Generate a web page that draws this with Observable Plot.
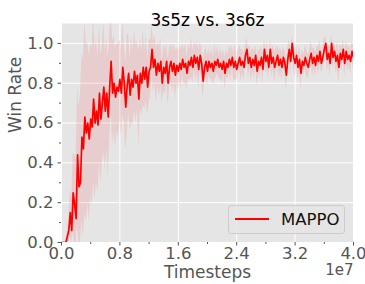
<!DOCTYPE html>
<html><head><meta charset="utf-8">
<script src="https://cdn.jsdelivr.net/npm/d3@7"></script>
<script src="https://cdn.jsdelivr.net/npm/@observablehq/plot@0.6"></script>
<style>
body{margin:0;background:#fff;}
#wrap{position:relative;width:365px;height:284px;font-family:"DejaVu Sans",sans-serif;}
#legend{position:absolute;left:228px;top:205px;width:115px;height:27px;background:rgba(229,229,229,0.8);border:1px solid #cccccc;border-radius:3px;box-sizing:content-box;}
#legend .swatch{position:absolute;left:6px;top:12px;width:34px;height:2px;background:red;}
#legend .lab{position:absolute;left:52px;top:3px;font-size:16.5px;line-height:21px;color:#111;}
</style></head><body><div id="wrap"></div>
<script>
const title = "3s5z vs. 3s6z";
const seriesName = "MAPPO";
const xLabel = "Timesteps";
const yLabel = "Win Rate";
const offsetLabel = "1e7";
const stepSize = 200000; // evaluation interval in timesteps
const winRateMean = [
0,0,0,0,0.03,0.06,0.15,0.06,0.25,0.19,
0.12,0.44,0.28,0.3,0.53,0.47,0.63,0.55,0.6,0.52,
0.62,0.58,0.72,0.6,0.66,0.59,0.75,0.62,0.7,0.78,
0.66,0.75,0.63,0.78,0.91,0.75,0.8,0.73,0.78,0.76,
0.82,0.75,0.88,0.8,0.68,0.79,0.85,0.74,0.82,0.78,
0.86,0.8,0.84,0.72,0.85,0.8,0.88,0.82,0.88,0.78,
0.86,0.88,0.97,0.88,0.92,0.84,0.9,0.86,0.91,0.8,
0.88,0.85,0.91,0.8,0.88,0.91,0.86,0.9,0.84,0.89,
0.86,0.9,0.87,0.92,0.88,0.9,0.85,0.91,0.89,0.93,
0.88,0.94,0.9,0.93,0.87,0.94,0.9,0.81,0.88,0.91,
0.86,0.91,0.88,0.9,0.86,0.91,0.89,0.92,0.88,0.9,
0.87,0.91,0.85,0.9,0.88,0.92,0.89,0.93,0.88,0.91,
0.87,0.9,0.93,0.89,0.91,0.88,0.94,0.97,0.9,0.93,
0.88,0.92,0.89,0.94,0.86,0.91,0.89,0.93,0.87,0.97,
0.91,0.94,0.88,0.97,0.9,0.93,0.88,0.91,0.94,0.89,
0.92,0.88,0.93,0.9,0.84,0.92,0.97,0.91,1.0,0.93,
0.9,0.94,0.88,0.92,0.85,0.91,0.89,0.93,0.9,0.88,
0.92,0.95,0.9,0.93,0.89,0.94,0.91,0.96,0.9,0.93,
0.97,1.0,0.92,0.95,0.9,1.0,0.93,0.96,0.91,0.94,
0.88,0.95,0.92,0.97,0.9,0.96,0.92,0.94,0.91,0.96,
0.93
];
const winRateStd = [
0,0,0,0,0.03,0.06,0.12,0.15,0.2,0.25,
0.3,0.35,0.4,0.45,0.42,0.45,0.48,0.45,0.4,0.42,
0.38,0.4,0.42,0.38,0.36,0.34,0.35,0.32,0.3,0.33,
0.3,0.28,0.3,0.27,0.25,0.26,0.24,0.25,0.22,0.24,
0.2,0.22,0.24,0.2,0.22,0.25,0.2,0.18,0.22,0.19,
0.2,0.2,0.17,0.24,0.18,0.16,0.19,0.15,0.17,0.14,
0.16,0.14,0.12,0.13,0.12,0.14,0.11,0.13,0.12,0.1,
0.12,0.11,0.1,0.12,0.1,0.09,0.11,0.1,0.12,0.09,
0.1,0.09,0.1,0.08,0.09,0.1,0.08,0.09,0.08,0.1,
0.08,0.07,0.09,0.08,0.1,0.07,0.08,0.09,0.08,0.07,
0.08,0.07,0.06,0.08,0.07,0.09,0.06,0.07,0.06,0.08,
0.07,0.06,0.08,0.07,0.06,0.07,0.08,0.06,0.07,0.09,
0.06,0.07,0.06,0.08,0.06,0.07,0.05,0.06,0.08,0.06,
0.07,0.06,0.07,0.05,0.08,0.06,0.07,0.06,0.08,0.05,
0.06,0.07,0.06,0.05,0.07,0.06,0.08,0.06,0.05,0.07,
0.06,0.07,0.05,0.06,0.08,0.06,0.05,0.07,0.04,0.06,
0.07,0.05,0.06,0.07,0.08,0.06,0.05,0.06,0.07,0.06,
0.05,0.06,0.07,0.05,0.06,0.05,0.07,0.06,0.05,0.06,
0.05,0.04,0.06,0.05,0.07,0.05,0.06,0.05,0.06,0.07,
0.08,0.05,0.06,0.05,0.07,0.05,0.06,0.05,0.06,0.05,
0.06
];
const xTicks = [0, 8e6, 16e6, 24e6, 32e6, 40e6];
const xMinorTicks = [4e6, 12e6, 20e6, 28e6, 36e6];
const yTicks = [0, 0.2, 0.4, 0.6, 0.8, 1.0];
const yMinorTicks = [0.1, 0.3, 0.5, 0.7, 0.9];

const data = winRateMean.map((m, i) => ({
  t: i * stepSize, m,
  lo: Math.max(0, m - winRateStd[i]),
  hi: m + winRateStd[i]
}));

const tickColor = "#555555";
const chart = Plot.plot({
  width: 365, height: 284,
  marginLeft: 61, marginRight: 12, marginTop: 23, marginBottom: 42,
  style: {fontFamily: "DejaVu Sans", background: "#fff", overflow: "visible"},
  x: {domain: [0, 4e7]},
  y: {domain: [0, 1.1]},
  marks: [
    Plot.frame({fill: "#e5e5e5", stroke: null}),
    Plot.gridX(xTicks, {stroke: "#fff", strokeOpacity: 1, strokeWidth: 1}),
    Plot.gridY(yTicks, {stroke: "#fff", strokeOpacity: 1, strokeWidth: 1}),
    Plot.areaY(data, {x: "t", y1: "lo", y2: "hi", fill: "red", fillOpacity: 0.1, clip: true}),
    Plot.lineY(data, {x: "t", y: "m", stroke: "red", strokeWidth: 1.7, clip: true}),
    Plot.axisX(xTicks, {tickSize: 3.5, tickPadding: 1, tickFormat: d => (d / 1e7).toFixed(1), fontSize: 16.5, color: tickColor, label: null}),
    Plot.axisX(xMinorTicks, {tickSize: 2, tickFormat: () => "", color: tickColor, label: null}),
    Plot.axisY(yTicks, {tickSize: 3.5, tickPadding: 4.5, tickFormat: d => d.toFixed(1), fontSize: 16.5, color: tickColor, label: null}),
    Plot.axisY(yMinorTicks, {tickSize: 2, tickFormat: () => "", color: tickColor, label: null}),
    Plot.text([title], {text: d => d, frameAnchor: "top", dy: -10, fontSize: 17, fill: "#000"}),
    Plot.text([xLabel], {text: d => d, frameAnchor: "bottom", dy: 35, fontSize: 17, fill: tickColor}),
    Plot.text([yLabel], {text: d => d, frameAnchor: "left", dx: -46, rotate: -90, fontSize: 17, fill: tickColor}),
    Plot.text([offsetLabel], {text: d => d, frameAnchor: "bottom-right", dy: 32, textAnchor: "end", fontSize: 15, fill: tickColor})
  ]
});
const wrap = document.getElementById("wrap");
wrap.appendChild(chart);
const legend = document.createElement("div");
legend.id = "legend";
legend.innerHTML = `<div class="swatch"></div><div class="lab">${seriesName}</div>`;
wrap.appendChild(legend);
</script></body></html>
